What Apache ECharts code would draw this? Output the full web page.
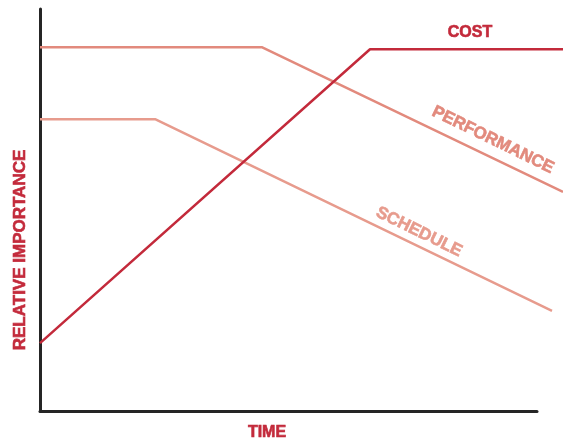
<!DOCTYPE html>
<html>
<head>
<meta charset="utf-8">
<script src="https://cdn.jsdelivr.net/npm/echarts@6/dist/echarts.min.js"></script>
<style>
  html, body { margin: 0; padding: 0; background: #fff; }
  #chart { width: 563px; height: 442px; }
</style>
</head>
<body>
<div id="chart"></div>
<script>
// time (0-100) vs relative importance (0-100)
const costData = [[0, 16.9], [63.1, 90.0], [100, 90.0]];
const performanceData = [[0, 90.5], [42.4, 90.5], [100, 54.5]];
const scheduleData = [[0, 72.6], [22.0, 72.6], [97.9, 24.9]];

const seriesNames = ['COST', 'PERFORMANCE', 'SCHEDULE'];
const xAxisName = 'TIME';
const yAxisName = 'RELATIVE IMPORTANCE';

const RED = '#c32a3b';
const PERF = '#e28a7d';
const SCHED = '#e79b8d';
const FONT = '"Liberation Sans", Arial, sans-serif';

const chart = echarts.init(document.getElementById('chart'), null, { renderer: 'canvas' });

const hiddenAxis = { show: false, min: 0, max: 100 };
const frameAxis = {
  min: 0,
  max: 100,
  axisLine: { show: true, lineStyle: { color: '#252525', width: 3 } },
  axisTick: { show: false },
  axisLabel: { show: false },
  splitLine: { show: false },
};

// heavier look, like the condensed bold of the original
const labelStyle = (color, size = 16) => ({
  fill: color,
  stroke: color,
  lineWidth: 0.6,
  font: `bold ${size}px ${FONT}`,
  align: 'center',
  verticalAlign: 'middle',
});

const tilt = -26 * Math.PI / 180;

chart.setOption({
  animation: false,
  backgroundColor: '#fff',
  grid: [
    // frame: axes stop a bit before the right edge
    { left: 40, right: 26, top: 9, bottom: 31 },
    // data area runs to the right edge
    { left: 40, right: 0, top: 9, bottom: 31 },
  ],
  xAxis: [
    { ...frameAxis, type: 'value', gridIndex: 0 },
    { ...hiddenAxis, type: 'value', gridIndex: 1 },
  ],
  yAxis: [
    { ...frameAxis, type: 'value', gridIndex: 0 },
    { ...hiddenAxis, type: 'value', gridIndex: 1 },
  ],
  series: [
    { name: seriesNames[0], type: 'line', xAxisIndex: 1, yAxisIndex: 1, data: costData,
      showSymbol: false, lineStyle: { color: RED, width: 2.5 }, z: 3 },
    { name: seriesNames[1], type: 'line', xAxisIndex: 1, yAxisIndex: 1, data: performanceData,
      showSymbol: false, lineStyle: { color: PERF, width: 2.5 }, z: 2 },
    { name: seriesNames[2], type: 'line', xAxisIndex: 1, yAxisIndex: 1, data: scheduleData,
      showSymbol: false, lineStyle: { color: SCHED, width: 2.5 }, z: 2 },
  ],
  graphic: [
    { type: 'text', x: 470, y: 33, style: { text: seriesNames[0], ...labelStyle(RED) } },
    { type: 'text', x: 493, y: 140, rotation: tilt,
      style: { text: seriesNames[1], ...labelStyle(PERF, 17) } },
    { type: 'text', x: 419, y: 232, rotation: tilt,
      style: { text: seriesNames[2], ...labelStyle(SCHED, 17) } },
    { type: 'text', x: 267, y: 433, style: { text: xAxisName, ...labelStyle(RED) } },
    { type: 'text', x: 20, y: 250, rotation: Math.PI / 2,
      style: { text: yAxisName, ...labelStyle(RED, 17) } },
  ],
});
</script>
</body>
</html>
